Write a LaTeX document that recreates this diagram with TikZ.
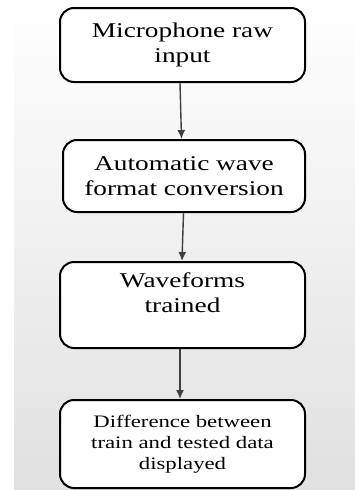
\documentclass[tikz,border=0pt]{standalone}
\usepackage{fontspec}
\setmainfont{Liberation Serif}[FakeStretch=1.3]
\usetikzlibrary{arrows.meta}
\tikzset{
  box/.style={draw=black, line width=2pt, rounded corners=14pt, fill=white,
    minimum width=245pt, align=center, inner sep=0pt, text=black,
    font=\fontsize{21pt}{24.5pt}\selectfont},
  arr/.style={draw=black!75, line width=1.4pt, -{Latex[length=9pt,width=8pt]}},
}
\begin{document}
\begin{tikzpicture}[x=1pt,y=1pt]
\useasboundingbox (0,0) rectangle (355,-490);
\shade[top color=white, bottom color=black!12] (14,0) rectangle (355,-490);
\node[box, minimum height=74pt] (b1) at (182.5,-45) {Microphone raw\\input};
\node[box, minimum width=242pt, minimum height=72pt] (b2) at (184,-176) {Automatic wave\\format conversion};
\node[box, minimum height=86pt] (b3) at (182.5,-305) {Waveforms\\trained\\~};
\node[box, minimum height=88pt, font=\fontsize{17.5pt}{21pt}\selectfont] (b4) at (182.5,-444) {Difference between\\train and tested data\\displayed};
\draw[arr] ([xshift=-2.5pt]b1.south) -- ([xshift=-2.5pt]b2.north);
\draw[arr] ([xshift=-0.5pt]b2.south) -- ([xshift=-0.5pt]b3.north);
\draw[arr] ([xshift=-2.5pt]b3.south) -- ([xshift=-2.5pt]b4.north);
\end{tikzpicture}
\end{document}
